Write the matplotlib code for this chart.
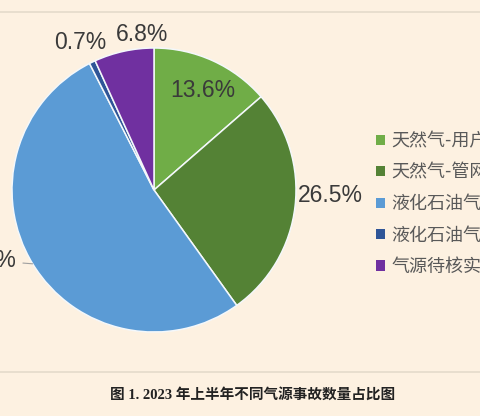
import numpy as np
import matplotlib
matplotlib.use("Agg")
import matplotlib.pyplot as plt
from matplotlib.lines import Line2D
from matplotlib.patches import Patch

# 데이터
categories = ["天然气-用户", "天然气-管网", "液化石油气-用户", "液化石油气-场站", "气源待核实"]
shares = [13.6, 26.5, 52.4, 0.7, 6.8]
pct_labels = ["13.6%", "26.5%", "52.4%", "0.7%", "6.8%"]
colors = ["#70ad47", "#548235", "#5b9bd5", "#2f5597", "#7030a0"]
caption = "图 1. 2023 年上半年不同气源事故数量占比图"

# 라벨 배치 (반지름 배율, 각도 보정)
label_dist = [0.78, 1.24, 1.09, 1.166, 1.095]
label_delta = [-1.6, 5.0, -4.4, 0.9, -7.8]

BG = "#fdf1e1"
W, H = 480, 416
fig = plt.figure(figsize=(W / 100, H / 100), dpi=100, facecolor=BG)
ax = fig.add_axes([0, 0, 1, 1])
ax.set_facecolor(BG)

cx, cy, r = 154, 226, 142
wedges, _ = ax.pie(shares, colors=colors, startangle=90, counterclock=False,
                   center=(cx, cy), radius=r,
                   wedgeprops=dict(edgecolor="#f4f8fb", linewidth=1.1))
ax.set_xlim(0, W)
ax.set_ylim(0, H)
ax.set_aspect("equal")
ax.axis("off")

pct_font = dict(family=["Liberation Sans"], size=16.5, color="#3a3a3a")
for i, w in enumerate(wedges):
    mid = (w.theta1 + w.theta2) / 2
    ang = np.deg2rad(mid + label_delta[i])
    x = cx + label_dist[i] * r * np.cos(ang)
    y = cy + label_dist[i] * r * np.sin(ang)
    if i == 2:
        # 왼쪽 라벨 + 지시선
        ex = cx + r * np.cos(np.deg2rad(mid))
        ey = cy + r * np.sin(np.deg2rad(mid))
        ax.annotate(pct_labels[i], xy=(ex, ey), xytext=(x, y), ha="right", va="center",
                    arrowprops=dict(arrowstyle="-", color="#a0a0a0", lw=0.8,
                                    shrinkA=3, shrinkB=0),
                    **pct_font)
    else:
        ax.text(x, y, pct_labels[i], ha="center", va="center", **pct_font)

handles = [Patch(facecolor=c, edgecolor="none") for c in colors]
ax.legend(handles, categories, loc="upper left",
          bbox_to_anchor=(376 / W, 1 - 132.5 / H), bbox_transform=fig.transFigure,
          frameon=False, handlelength=0.48, handleheight=0.48, handletextpad=0.38,
          labelspacing=0.74, borderpad=0, borderaxespad=0,
          prop=dict(family=["Noto Sans CJK SC"], size=13), labelcolor="#595959")

# 상하 구분선
for yy in (11.5, 371.5):
    fig.add_artist(Line2D([0, 1], [1 - yy / H] * 2, color="#e4dbcb", lw=1.2))

fig.text(253 / W, 1 - 395 / H, caption, ha="center", va="center", fontsize=10.5,
         fontweight="bold", family=["Liberation Serif", "Noto Sans CJK SC"], color="#222222")

fig.savefig("out.png", dpi=100, facecolor=BG)
